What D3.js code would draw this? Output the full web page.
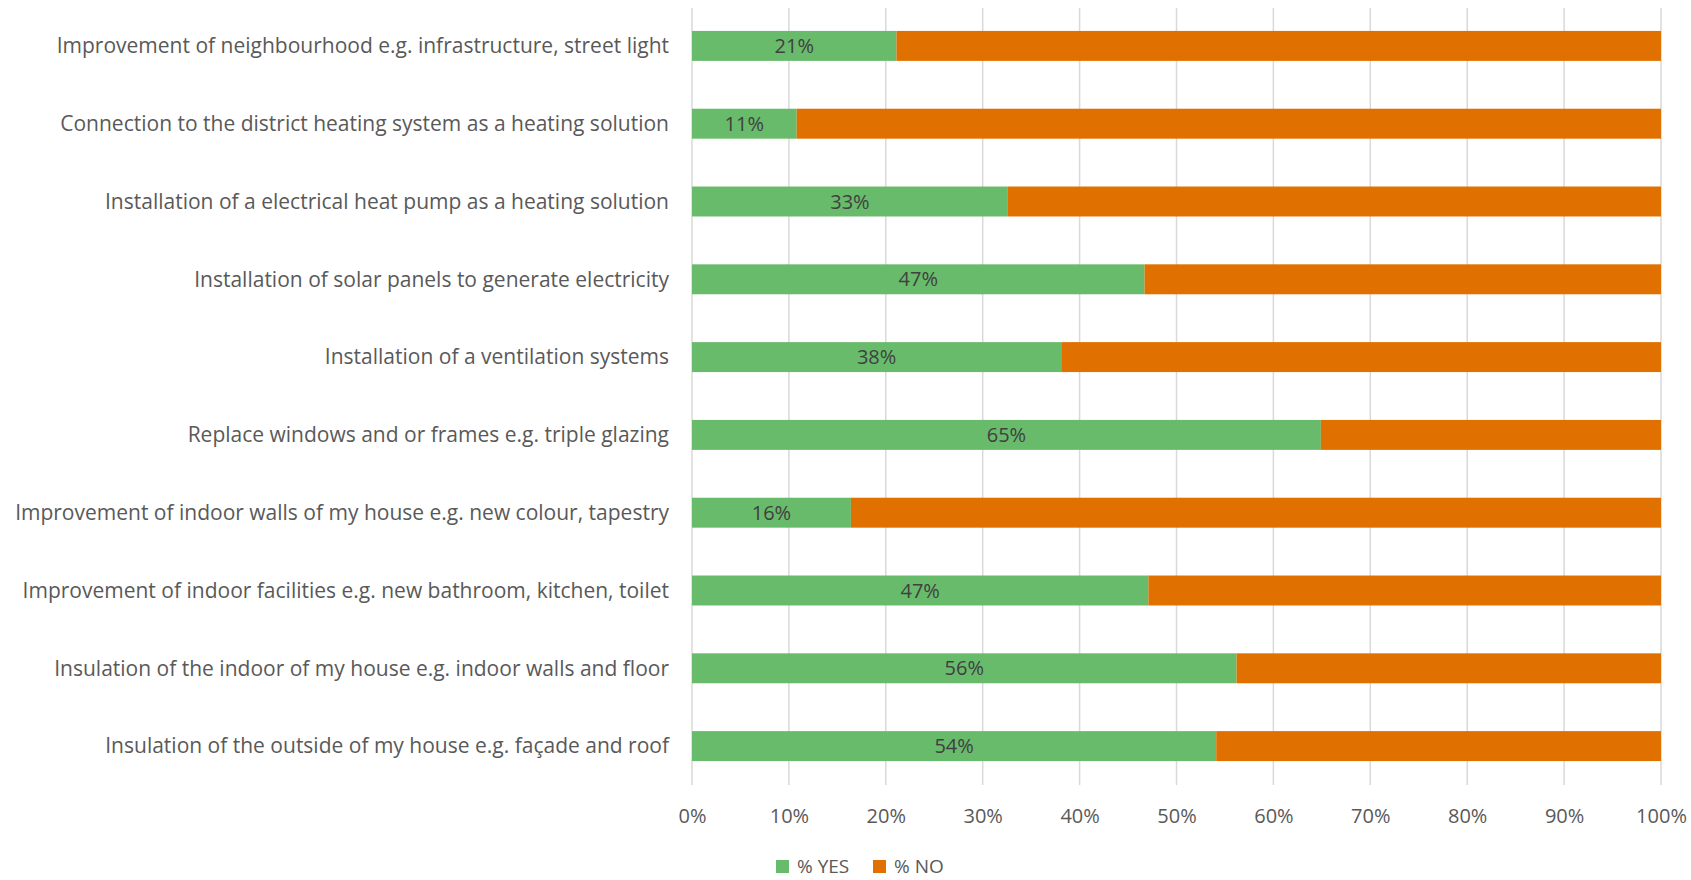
<!DOCTYPE html>
<html><head><meta charset="utf-8">
<script src="https://cdn.jsdelivr.net/npm/d3@7"></script>
<style>
body{margin:0;background:#fff;}
text{font-family:"Liberation Sans Narrow","Open Sans",sans-serif;}
</style></head>
<body><svg id="c" width="1691" height="880"></svg>
<script>
const categories = [
  "Improvement of neighbourhood e.g. infrastructure, street light",
  "Connection to the district heating system as a heating solution",
  "Installation of a electrical heat pump as a heating solution",
  "Installation of solar panels to generate electricity",
  "Installation of a ventilation systems",
  "Replace windows and or frames e.g. triple glazing",
  "Improvement of indoor walls of my house e.g. new colour, tapestry",
  "Improvement of indoor facilities e.g. new bathroom, kitchen, toilet",
  "Insulation of the indoor of my house e.g. indoor walls and floor",
  "Insulation of the outside of my house e.g. façade and roof"
];
const yesValues = [21.1, 10.8, 32.6, 46.7, 38.1, 64.9, 16.4, 47.1, 56.2, 54.1];
const noValues  = [78.9, 89.2, 67.4, 53.3, 61.9, 35.1, 83.6, 52.9, 43.8, 45.9];
const seriesNames = ["% YES", "% NO"];
const seriesColors = ["#69bb6c", "#e07000"];
const tickValues = [0,10,20,30,40,50,60,70,80,90,100];

const svg = d3.select("#c");
const x = d3.scaleLinear().domain([0,100]).range([692, 1661]);
const y = d3.scaleBand().domain(categories).range([7, 785]).paddingInner(0.615).paddingOuter(0.3075);

// gridlines
svg.append("g").selectAll("line").data(tickValues).join("line")
  .attr("x1", d=>x(d)).attr("x2", d=>x(d)).attr("y1", 8).attr("y2", 785)
  .attr("stroke", "#d9d9d9").attr("stroke-width", 1.5);

const rows = categories.map((c,i)=>({c, yes: yesValues[i], no: noValues[i]}));
const stack = d3.stack().keys(["yes","no"])(rows);
svg.append("g").selectAll("g").data(stack).join("g")
  .attr("fill", (d,i)=>seriesColors[i])
  .selectAll("rect").data(d=>d).join("rect")
  .attr("x", d=>x(d[0])).attr("width", d=>x(d[1])-x(d[0]))
  .attr("y", d=>y(d.data.c)).attr("height", y.bandwidth());

// data labels
svg.append("g").selectAll("text").data(rows).join("text")
  .attr("x", d=>x(d.yes/2)).attr("y", d=>y(d.c)+y.bandwidth()/2)
  .attr("dy","0.35em").attr("text-anchor","middle")
  .attr("font-size", 20).attr("fill", "#404040")
  .text(d=>Math.round(d.yes)+"%");

// category axis labels
svg.append("g").selectAll("text").data(categories).join("text")
  .attr("x", 669).attr("y", d=>y(d)+y.bandwidth()/2).attr("dy","0.35em")
  .attr("text-anchor","end").attr("font-size", 21).attr("fill","#595959")
  .text(d=>d);

// x axis
const xAxis = d3.axisBottom(x).tickValues(tickValues).tickSize(0).tickPadding(0).tickFormat(d=>d+"%");
const gx = svg.append("g").attr("transform","translate(0,816)").call(xAxis);
gx.select(".domain").remove();
gx.selectAll("text").attr("font-size",20).attr("fill","#595959").attr("dy","0.35em").attr("y",0)
  .style("font-family",'"Liberation Sans Narrow","Open Sans",sans-serif');

// legend
const leg = svg.append("g").attr("transform","translate(776,866)");
const li = leg.selectAll("g").data(seriesNames).join("g").attr("transform",(d,i)=>`translate(${i*97},0)`);
li.append("rect").attr("x",0).attr("y",-6).attr("width",13).attr("height",13).attr("fill",(d,i)=>seriesColors[i]);
li.append("text").attr("x",21).attr("y",0).attr("dy","0.35em").attr("font-size",19).attr("fill","#595959").text(d=>d);
</script></body></html>
